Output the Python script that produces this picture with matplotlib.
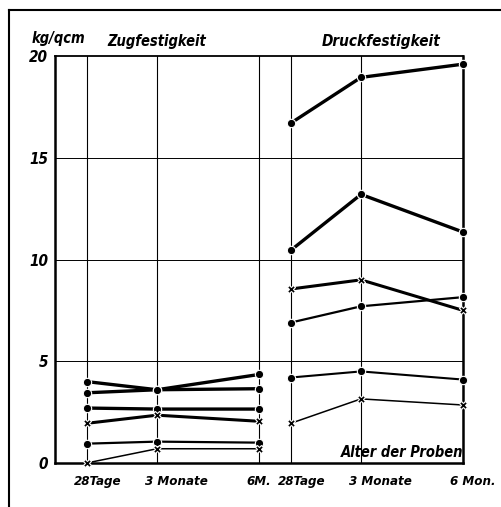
import matplotlib
matplotlib.use('Agg')
import matplotlib.pyplot as plt
from matplotlib.lines import Line2D

# Daten (kg/qcm) nach Alter der Proben in Tagen
tage = [28, 90, 180]
zug_labels = ['28Tage', '3 Monate', '6M.']
druck_labels = ['28Tage', '3 Monate', '6 Mon.']

zug_1 = [4.0, 3.6, 4.35]
zug_2 = [3.45, 3.6, 3.65]
zug_3 = [2.7, 2.65, 2.65]
zug_4 = [1.95, 2.35, 2.05]
zug_5 = [0.95, 1.05, 1.0]
zug_6 = [0.0, 0.7, 0.7]

druck_1 = [16.7, 18.95, 19.6]
druck_2 = [10.45, 13.2, 11.35]
druck_3 = [8.55, 9.0, 7.5]
druck_4 = [6.9, 7.7, 8.15]
druck_5 = [4.2, 4.5, 4.1]
druck_6 = [1.95, 3.15, 2.85]

# zweites Feld (Druck) beginnt beim 6-Monats-Strich des ersten
x_zug = tage
x_druck = [180 + t for t in tage]

font = dict(family='DejaVu Sans', style='italic', weight='bold', stretch='condensed')

fig = plt.figure(figsize=(5.02, 5.07), dpi=100)
ax = fig.add_axes([0.1096, 0.0868, 0.8127, 0.8027])
ax.set_xlim(0, 360)
ax.set_ylim(0, 20)

# Gitter
for x in x_zug + x_druck:
    ax.axvline(x, color='black', lw=0.8, zorder=1)
for y in [5, 10, 15]:
    ax.axhline(y, color='black', lw=0.7, zorder=1)

serien = [
    (x_zug, zug_1, 'o', 2.4), (x_zug, zug_2, 'o', 2.4), (x_zug, zug_3, 'o', 2.4),
    (x_zug, zug_4, 'X', 2.2), (x_zug, zug_5, 'o', 1.6), (x_zug, zug_6, 'X', 1.1),
    (x_druck, druck_1, 'o', 2.4), (x_druck, druck_2, 'o', 2.4), (x_druck, druck_3, 'X', 2.2),
    (x_druck, druck_4, 'o', 1.6), (x_druck, druck_5, 'o', 1.5), (x_druck, druck_6, 'X', 1.1),
]
for xs, ys, m, lw in serien:
    ax.plot(xs, ys, color='black', lw=lw, zorder=2)
    ax.plot(xs, ys, ls='none', marker=m, ms=6 if m == 'o' else 6, color='black',
            mec='white', mew=0.8, zorder=3, clip_on=False)

for side in ['left', 'bottom', 'right']:
    ax.spines[side].set_linewidth(1.8)
ax.spines['top'].set_linewidth(1.3)

ax.set_xticks([])
ax.set_yticks([0, 5, 10, 15, 20])
ax.set_yticklabels(['0', '5', '10', '15', '20'], fontsize=11, **font)
ax.tick_params(axis='y', length=0, pad=5)

for x, lab in zip(x_zug + x_druck, zug_labels + druck_labels):
    ax.annotate(lab, (x, 0), xycoords=('data', 'axes fraction'), xytext=(-9, -9),
                textcoords='offset points', ha='left', va='top', fontsize=9.5, **font)

ax.text(90, 20.35, 'Zugfestigkeit', ha='center', va='bottom', fontsize=10.5, **font)
ax.text(288, 20.35, 'Druckfestigkeit', ha='center', va='bottom', fontsize=11, **font)
ax.text(360, 0.15, 'Alter der Proben', ha='right', va='bottom', fontsize=10.5, **font)
fig.text(0.062, 0.925, 'kg/qcm', ha='left', va='center', fontsize=10.5, **font)

# äußerer Rahmen
fig.add_artist(Line2D([0.018, 0.998], [0.980, 0.980], color='black', lw=1.5))
fig.add_artist(Line2D([0.018, 0.018], [0.980, 0.0], color='black', lw=1.5))

plt.savefig('out.png', dpi=100)
